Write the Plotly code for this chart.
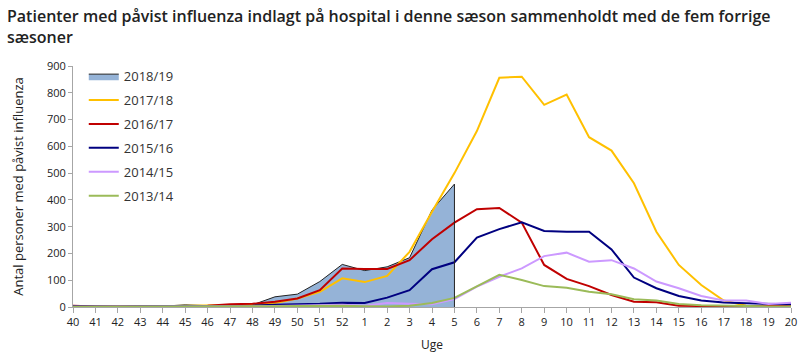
import plotly.graph_objects as go

weeks = ["40", "41", "42", "43", "44", "45", "46", "47", "48", "49", "50", "51", "52",
         "1", "2", "3", "4", "5", "6", "7", "8", "9", "10", "11", "12", "13", "14",
         "15", "16", "17", "18", "19", "20"]

s2018_19 = [5, 2, 2, 3, 3, 8, 5, 7, 8, 38, 48, 95, 159, 136, 150, 184, 362, 459]
s2017_18 = [2, 1, 1, 2, 3, 3, 4, 5, 8, 15, 32, 57, 107, 93, 116, 206, 356, 500,
            657, 856, 860, 755, 793, 634, 584, 462, 281, 157, 82, 24, 5, 2, 2]
s2016_17 = [5, 2, 2, 4, 4, 3, 5, 10, 12, 20, 32, 63, 144, 142, 142, 175, 253, 315,
            365, 370, 315, 157, 105, 78, 45, 20, 18, 5, 3, 2, 2, 5, 8]
s2015_16 = [3, 2, 2, 3, 3, 4, 4, 5, 5, 8, 9, 12, 16, 15, 35, 63, 141, 167,
            259, 291, 316, 284, 281, 281, 215, 110, 70, 41, 24, 17, 14, 11, 10]
s2014_15 = [1, 1, 1, 2, 2, 2, 2, 3, 3, 4, 5, 6, 8, 5, 15, 12, 10, 30,
            76, 113, 144, 190, 203, 169, 175, 144, 95, 70, 41, 24, 24, 11, 16]
s2013_14 = [1, 1, 1, 1, 1, 1, 1, 2, 2, 3, 4, 5, 5, 3, 2, 5, 15, 34,
            78, 120, 101, 78, 72, 57, 48, 29, 24, 11, 7, 5, 3, 2, 2]

y_ticks = [0, 100, 200, 300, 400, 500, 600, 700, 800, 900]

title_text = ("Patienter med påvist influenza indlagt på hospital i denne sæson "
              "sammenholdt med de fem forrige<br>sæsoner")

FONT = "Open Sans"
fig = go.Figure()

fig.add_trace(go.Scatter(
    x=weeks[:len(s2018_19)], y=s2018_19, name="2018/19", mode="lines",
    fill="tozeroy", fillcolor="#95B3D7", line=dict(color="#222222", width=1),
    legendgroup="a"))

lines = [("2017/18", s2017_18, "#FFC000"),
         ("2016/17", s2016_17, "#C00000"),
         ("2015/16", s2015_16, "#000080"),
         ("2014/15", s2014_15, "#CC99FF"),
         ("2013/14", s2013_14, "#9BBB59")]
for name, vals, col in lines:
    fig.add_trace(go.Scatter(x=weeks, y=vals, name=name, mode="lines",
                             line=dict(color=col, width=2), legendgroup=name))

last_idx = len(s2018_19) - 1
fig.add_shape(type="line", xref="x", yref="y",
              x0=last_idx, x1=last_idx,
              y0=0, y1=s2018_19[-1], line=dict(color="#222222", width=1))

fig.add_annotation(text=title_text, xref="paper", yref="paper",
                   x=-68 / 718, y=1 + 63 / 241, xanchor="left", yanchor="top",
                   align="left", showarrow=False,
                   font=dict(family=FONT, size=16, color="#222222", weight=600))

fig.update_layout(
    width=800, height=361,
    margin=dict(l=73, r=9, t=66, b=54),
    paper_bgcolor="white", plot_bgcolor="white",
    font=dict(family=FONT, size=11, color="#222222"),
    showlegend=True,
    legend=dict(x=0.015, y=1.02, xanchor="left", yanchor="top",
                bgcolor="rgba(0,0,0,0)", font=dict(size=13, color="#333333"),
                tracegroupgap=4, itemwidth=30),
    xaxis=dict(type="category", categoryorder="array", categoryarray=weeks,
               range=[0, len(weeks) - 1], showgrid=False, automargin=False,
               showline=True, linecolor="#A6A6A6", linewidth=1,
               ticks="outside", ticklen=5, tickcolor="#A6A6A6",
               tickfont=dict(size=11), tickangle=0,
               title=dict(text="Uge", font=dict(size=12), standoff=12)),
    yaxis=dict(range=[0, 900], tickvals=y_ticks, showgrid=False, zeroline=False,
               automargin=False,
               showline=True, linecolor="#A6A6A6", linewidth=1,
               ticks="outside", ticklen=4, tickcolor="#A6A6A6",
               tickfont=dict(size=11),
               title=dict(text="Antal personer med påvist influenza", font=dict(size=13), standoff=20)),
)

fig.write_html("out.html", config={"displayModeBar": False},
               post_script="document.body.style.margin = '0';")
